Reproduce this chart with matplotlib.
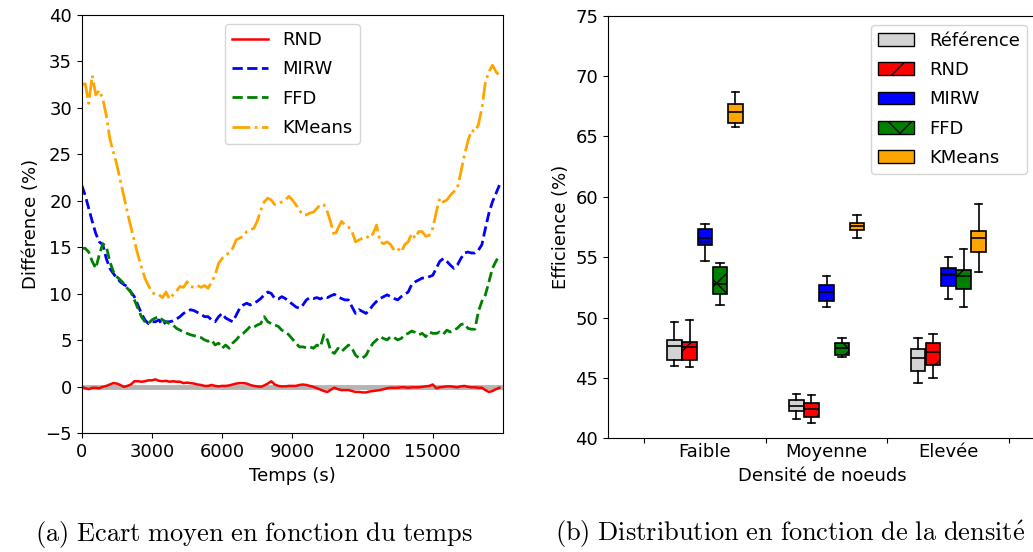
import numpy as np
import matplotlib
matplotlib.use("Agg")
import matplotlib.pyplot as plt
from matplotlib.patches import Patch

plt.rcParams['font.size'] = 13
plt.rcParams['mathtext.fontset'] = 'cm'

# ---- (a) mean gap over time, sampled every 150 s ----
step_s = 150
rnd = [0.0, -0.15, -0.25, -0.1, -0.1, -0.15, 0, 0.1, 0.25, 0.4,
       0.35, 0.2, 0, 0.1, 0.25, 0.6, 0.6, 0.55, 0.6, 0.7,
       0.7, 0.8, 0.65, 0.6, 0.65, 0.55, 0.6, 0.55, 0.55, 0.4,
       0.45, 0.4, 0.35, 0.25, 0.2, 0.1, 0.1, 0.2, 0.1, 0.05, 0.1,
       0.1, 0.15, 0.25, 0.35, 0.4, 0.4, 0.35, 0.2, 0.1, 0.05,
       0.0, 0.15, 0.35, 0.6, 0.25, 0.1, 0.05, 0.05, 0.1, 0.1,
       0.1, 0.2, 0.25, 0.2, 0.1, 0.0, -0.15, -0.3, -0.45, -0.55,
       -0.3, -0.1, -0.25, -0.35, -0.35, -0.35, -0.45, -0.55,
       -0.55, -0.6, -0.6, -0.5, -0.45, -0.4, -0.35, -0.25, -0.15, -0.1,
       -0.1, -0.1, -0.05, -0.05, -0.1, -0.05, -0.05, -0.05, 0.0, 0.05,
       0.1, 0.25, -0.15, -0.05, 0.0, 0.05, 0.05, 0.0, -0.05, 0.05,
       0.1, 0.0, -0.05, -0.05, -0.1, -0.1, -0.35, -0.55, -0.45, -0.25, -0.1]
mirw = [21.7, 20.6, 19.2, 17.8, 16.5, 15.6, 15.3, 13.8, 12.75, 12.2,
        11.7, 11.3, 11.0, 10.8, 10.2, 9.7, 8.8, 7.9, 7.2, 6.8,
        7.0, 7.0, 7.2, 6.65, 7.0, 7.0, 7.1, 7.3, 7.55, 7.9,
        8.1, 8.3, 8.2, 8.0, 7.8, 7.55, 7.55, 7.2, 7.0, 7.55, 7.9,
        7.4, 7.2, 7.0, 7.7, 8.45, 8.8, 9.0, 8.8, 9.0, 9.2,
        9.5, 9.9, 10.2, 10.05, 9.5, 9.45, 9.7, 9.5, 9.2, 8.9,
        8.6, 8.45, 8.8, 9.35, 9.6, 9.5, 9.6, 9.45, 9.7, 9.6,
        9.8, 9.95, 9.7, 9.5, 9.35, 9.35, 8.6, 7.9,
        8.3, 8.1, 7.9, 8.3, 8.8, 9.2, 9.5, 9.7, 9.9, 9.7,
        9.5, 9.35, 9.7, 9.95, 10.2, 11.0, 11.3, 11.5, 11.7, 11.7,
        11.85, 12.0, 12.75, 13.5, 13.8, 13.5, 13.1, 12.75, 13.1, 13.8,
        14.4, 14.5, 14.4, 14.4, 14.7, 15.3, 17.05, 18.7, 19.9, 20.8, 21.7]
ffd = [14.9, 14.9, 14.5, 13.5, 12.75, 14.2, 15.4, 15.1, 13.5, 12.4,
       11.85, 11.5, 11.1, 10.6, 10.2, 9.35, 8.45, 7.55, 7.0, 6.8,
       7.2, 7.4, 7.55, 7.2, 7.0, 6.8, 6.65, 6.3, 6.1, 5.9,
       5.75, 5.6, 5.5, 5.4, 5.3, 5.05, 4.9, 5.05, 4.5, 4.7, 4.15,
       4.5, 4.15, 4.7, 5.05, 5.5, 5.75, 6.1, 6.5, 6.4, 6.65,
       6.8, 7.55, 7.0, 6.8, 6.65, 6.5, 6.1, 5.9, 5.6, 5.15,
       4.7, 4.3, 4.3, 4.2, 4.3, 4.15, 4.5, 4.3, 5.6, 5.05,
       3.8, 3.6, 4.15, 3.8, 4.15, 4.5, 4.15, 3.4,
       3.1, 3.1, 3.4, 4.15, 4.7, 5.05, 5.4, 5.2, 5.05, 5.4,
       5.3, 5.05, 5.2, 5.6, 5.75, 6.0, 5.85, 5.6, 5.75, 5.4,
       5.9, 5.75, 5.75, 5.9, 5.65, 6.1, 5.9, 6.1, 6.3, 6.7,
       6.8, 6.3, 6.2, 6.2, 8.1, 9.2, 9.9, 11.3, 12.75, 13.5, 14.2]
kmeans = [32.5, 32.6, 30.5, 33.5, 31.4, 31.9, 31.0, 29.2, 26.7, 25.3,
          23.9, 22.2, 20.5, 18.8, 17.2, 15.7, 14.2, 12.9, 11.7, 10.9,
          10.2, 9.9, 9.9, 9.6, 10.2, 9.45, 9.9, 10.3, 10.8, 10.7,
          11.3, 10.8, 10.7, 10.9, 10.7, 10.9, 10.6, 11.3, 12.0, 13.3, 13.8,
          14.2, 14.4, 14.9, 15.8, 16.0, 16.2, 16.7, 16.9, 17.05, 17.8,
          19.0, 19.9, 20.3, 20.1, 19.6, 19.7, 19.9, 20.1, 20.5, 20.1,
          19.6, 19.0, 18.5, 18.5, 18.7, 18.8, 19.2, 19.6, 19.6, 18.8,
          17.6, 16.2, 17.05, 17.8, 17.4, 17.2, 16.7, 15.6,
          15.8, 16.0, 16.2, 16.0, 16.5, 17.4, 15.6, 15.4, 15.6, 15.3,
          14.7, 14.9, 14.5, 15.3, 15.6, 16.5, 16.0, 16.7, 16.7, 16.2,
          16.3, 17.05, 18.8, 20.3, 19.9, 20.1, 20.6, 21.0, 21.35, 23.1,
          24.9, 26.4, 27.6, 27.45, 28.2, 30.0, 32.8, 33.9, 34.6, 33.9, 33.5]

# ---- (b) box statistics per density level: (whislo, q1, med, q3, whishi) ----
densities = ['Faible', 'Moyenne', 'Elevée']
methods = ['Référence', 'RND', 'MIRW', 'FFD', 'KMeans']
ref_stats = [(46.0, 46.5, 47.65, 48.15, 49.6),
             (41.6, 42.25, 42.65, 43.15, 43.7),
             (44.55, 45.6, 46.65, 47.4, 48.3)]
rnd_stats = [(45.9, 46.5, 47.6, 48.0, 49.8),
             (41.25, 41.75, 42.45, 42.95, 43.55),
             (45.0, 46.05, 47.15, 47.9, 48.6)]
mirw_stats = [(54.65, 56.0, 56.55, 57.35, 57.75),
              (50.9, 51.4, 52.15, 52.7, 53.4),
              (51.5, 52.65, 53.6, 54.1, 55.0)]
ffd_stats = [(51.05, 51.95, 52.8, 54.2, 54.55),
             (46.7, 46.9, 47.45, 47.9, 48.3),
             (50.9, 52.35, 53.4, 53.95, 55.7)]
kmeans_stats = [(65.8, 66.1, 67.0, 67.7, 68.65),
                (56.6, 57.25, 57.55, 57.8, 58.5),
                (53.75, 55.4, 56.6, 57.2, 59.4)]
method_colors = ['lightgray', 'red', 'blue', 'green', 'orange']
method_hatches = ['', '/', '-', 'x', '']

fig = plt.figure(figsize=(10.33, 5.52), dpi=100)

# left panel
ax1 = fig.add_axes([0.0791, 0.215, 0.4078, 0.7578])
ax1.axhline(0, color='#b4b4b4', lw=3.5, zorder=1)
ax1.plot(np.arange(len(rnd)) * step_s, rnd, color='red', lw=1.8, label='RND')
ax1.plot(np.arange(len(mirw)) * step_s, mirw, color='blue', lw=2, ls='--', label='MIRW')
ax1.plot(np.arange(len(ffd)) * step_s, ffd, color='green', lw=2, ls='--', label='FFD')
ax1.plot(np.arange(len(kmeans)) * step_s, kmeans, color='orange', lw=2, ls='-.', label='KMeans')
ax1.set_xlim(0, 18000)
ax1.set_ylim(-5, 40)
ax1.set_xticks([0, 3000, 6000, 9000, 12000, 15000])
ax1.set_yticks(range(-5, 41, 5))
ax1.set_xlabel('Temps (s)')
ax1.set_ylabel('Différence (%)')
ax1.legend(loc='upper center', labelspacing=0.62)

# right panel (its right edge falls just outside the picture)
ax2 = fig.add_axes([0.5886, 0.206, 0.4143, 0.7656])
all_stats = [ref_stats, rnd_stats, mirw_stats, ffd_stats, kmeans_stats]
offsets = [-0.25, -0.125, 0, 0.125, 0.25]
for j, stats in enumerate(all_stats):
    bxp_data = []
    for lo, q1, med, q3, hi in stats:
        bxp_data.append({'whislo': lo, 'q1': q1, 'med': med, 'q3': q3, 'whishi': hi, 'fliers': []})
    pos = [i + offsets[j] for i in range(len(densities))]
    res = ax2.bxp(bxp_data, positions=pos, widths=0.12, patch_artist=True,
                  showfliers=False, manage_ticks=False,
                  medianprops=dict(color='black', lw=1.2),
                  whiskerprops=dict(color='black', lw=1.2),
                  capprops=dict(color='black', lw=1.2))
    for b in res['boxes']:
        b.set_facecolor(method_colors[j])
        b.set_edgecolor('black')
        b.set_linewidth(1.2)
        b.set_hatch(method_hatches[j])

ax2.set_xlim(-0.796, 2.72)
ax2.set_ylim(40, 75)
ax2.set_xticks([-0.5, 0.5, 1.5, 2.5])
ax2.set_xticklabels([])
ax2.set_xticks(range(len(densities)), minor=True)
ax2.set_xticklabels(densities, minor=True)
ax2.tick_params(axis='x', which='minor', length=0)
ax2.set_xlabel('Densité de noeuds')
ax2.set_ylabel('Efficience (%)')
handles = [Patch(facecolor=c, edgecolor='black', hatch=h, label=m)
           for c, h, m in zip(method_colors, method_hatches, methods)]
ax2.legend(handles=handles, loc='upper right', labelspacing=0.62)

# captions, LaTeX-like serif
fig.text(0.034, 0.032, r'$\mathrm{(a)\ Ecart\ moyen\ en\ fonction\ du\ temps}$',
         ha='left', va='center', fontsize=19)
fig.text(0.537, 0.032, r'$\mathrm{(b)\ Distribution\ en\ fonction\ de\ la\ densit\acute{e}}$',
         ha='left', va='center', fontsize=19)

fig.savefig('out.png', dpi=100)
